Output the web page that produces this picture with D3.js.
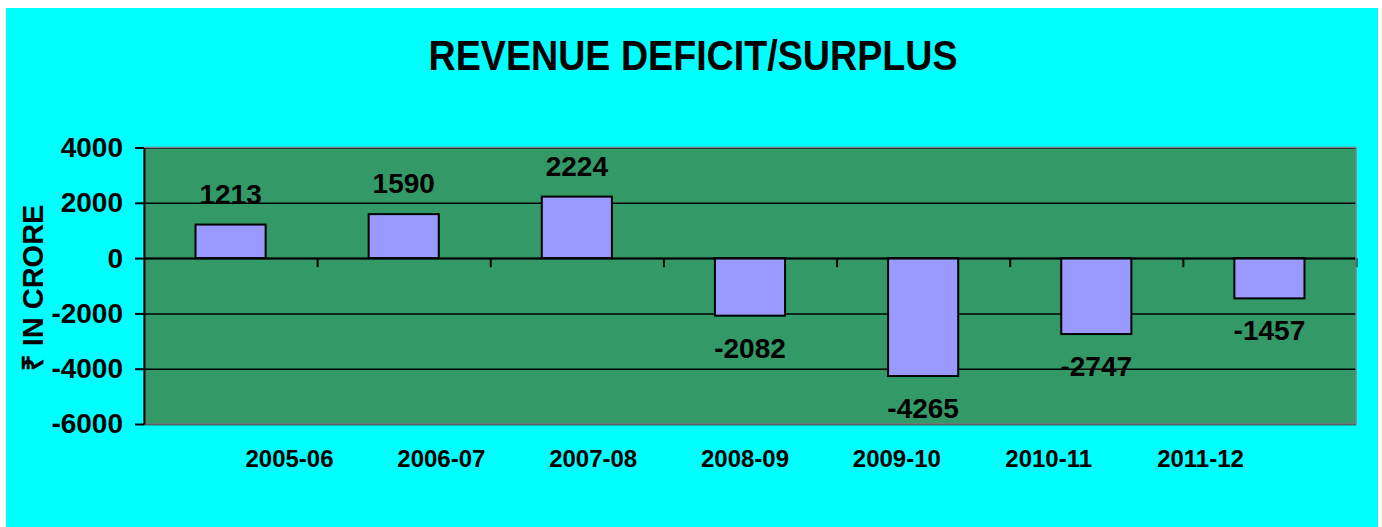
<!DOCTYPE html>
<html>
<head>
<meta charset="utf-8">
<script src="https://cdn.jsdelivr.net/npm/d3@7"></script>
<style>
  body { margin: 0; background: #fff; }
  svg text { font-family: "Liberation Sans", Arial, sans-serif; font-weight: bold; fill: #000; }
</style>
</head>
<body>
<svg width="1382" height="527"></svg>
<script>
// chart data
var years = ['2005-06', '2006-07', '2007-08', '2008-09', '2009-10', '2010-11', '2011-12'];
var revenue = [1213, 1590, 2224, -2082, -4265, -2747, -1457];
var yTicks = [-6000, -4000, -2000, 0, 2000, 4000];

var svg = d3.select('svg');

var width = 1382;
var height = 527;
var margin = {top: 147.5, bottom: 103, left: 144, right: 26};
var innerWidth = width - margin.left - margin.right;
var innerHeight = height - margin.top - margin.bottom;

// cyan chart area
svg.append('rect')
   .attr('x', 6).attr('y', 8)
   .attr('width', 1372).attr('height', 519)
   .attr('fill', '#00FFFF');

svg.append('text')
   .attr('x', 693).attr('y', 70)
   .attr('text-anchor', 'middle')
   .attr('font-size', 43)
   .attr('textLength', 529)
   .attr('lengthAdjust', 'spacingAndGlyphs')
   .text('REVENUE DEFICIT/SURPLUS');

svg.append('text')
   .attr('transform', 'translate(43,288) rotate(-90)')
   .attr('text-anchor', 'middle')
   .attr('font-size', 29)
   .text('₹ IN CRORE');

var xScale = d3.scaleBand()
   .domain(years)
   .range([0, innerWidth])
   .paddingInner(0.595)
   .paddingOuter(0.2975);

var yScale = d3.scaleLinear()
   .domain([-6000, 4000])
   .range([innerHeight, 0]);

var g = svg.append('g')
   .attr('transform', 'translate(' + margin.left + ',' + margin.top + ')');

// plot area
g.append('rect')
   .attr('width', innerWidth).attr('height', innerHeight)
   .attr('fill', '#339966');

// gridlines
var grid = g.append('g')
   .call(d3.axisLeft(yScale).tickValues(yTicks).tickSize(-innerWidth).tickFormat(''));
grid.select('.domain').remove();
grid.selectAll('line').attr('stroke', '#000').attr('stroke-width', 1.5);

// bars
g.selectAll('rect.bar').data(revenue)
   .enter()
   .append('rect')
   .attr('class', 'bar')
   .attr('x', (d, i) => xScale(years[i]))
   .attr('y', d => yScale(Math.max(d, 0)))
   .attr('width', xScale.bandwidth())
   .attr('height', d => Math.abs(yScale(d) - yScale(0)))
   .attr('fill', '#9999FF')
   .attr('stroke', '#000')
   .attr('stroke-width', 2);

// value labels
g.selectAll('text.val').data(revenue)
   .enter()
   .append('text')
   .attr('class', 'val')
   .attr('x', (d, i) => xScale(years[i]) + xScale.bandwidth() / 2)
   .attr('y', d => d >= 0 ? yScale(d) - 21 : yScale(d) + 42)
   .attr('text-anchor', 'middle')
   .attr('font-size', 28)
   .text(d => String(d));

// zero axis with category boundary ticks
var boundScale = d3.scaleLinear().domain([0, years.length]).range([0, innerWidth]);
var zeroAxis = g.append('g')
   .attr('transform', 'translate(0,' + yScale(0) + ')')
   .call(d3.axisBottom(boundScale).tickValues(d3.range(1, years.length + 1)).tickSize(9).tickSizeOuter(0).tickFormat(''));
zeroAxis.selectAll('line, path').attr('stroke', '#000').attr('stroke-width', 2);

// plot border
g.append('rect')
   .attr('width', innerWidth).attr('height', innerHeight)
   .attr('fill', 'none')
   .attr('stroke', '#808080')
   .attr('stroke-width', 1.5);

// y axis
var yAxis = g.append('g')
   .call(d3.axisLeft(yScale).tickValues(yTicks).tickSize(9).tickSizeOuter(0).tickPadding(12).tickFormat(d => String(d)));
yAxis.selectAll('line, path').attr('stroke', '#000').attr('stroke-width', 2);
yAxis.selectAll('text')
   .attr('font-size', 28)
   .attr('font-family', '"Liberation Sans", Arial, sans-serif')
   .attr('font-weight', 'bold')
   .attr('fill', '#000');

// category labels sit on their own spread, as in the source chart
var labelScale = d3.scalePoint().domain(years).range([289 - margin.left, 1200 - margin.left]);
var catAxis = g.append('g')
   .attr('transform', 'translate(0,' + innerHeight + ')')
   .call(d3.axisBottom(labelScale).tickSize(0).tickPadding(26));
catAxis.select('.domain').remove();
catAxis.selectAll('text')
   .attr('font-size', 24)
   .attr('font-family', '"Liberation Sans", Arial, sans-serif')
   .attr('font-weight', 'bold')
   .attr('fill', '#000');
</script>
</body>
</html>
